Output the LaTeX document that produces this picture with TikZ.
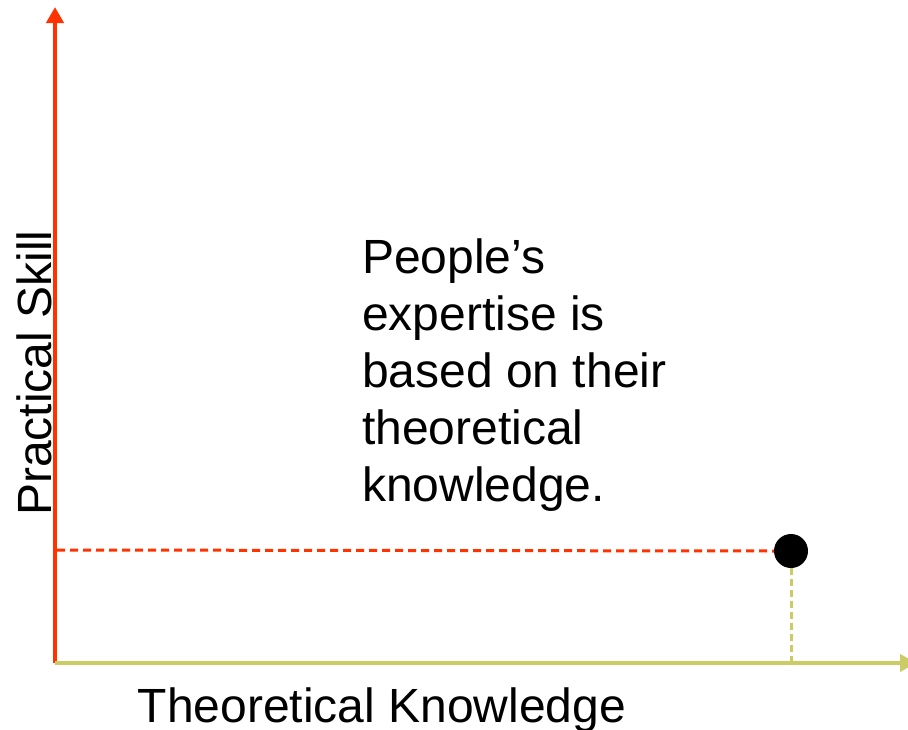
\documentclass[tikz,border=0pt]{standalone}
\usepackage{fontspec}
\setmainfont{Liberation Sans}
\usetikzlibrary{arrows.meta}
\definecolor{axred}{HTML}{FF3300}
\definecolor{axolive}{HTML}{CCCC66}

\begin{document}
\begin{tikzpicture}[x=1pt,y=-1pt,
  ax/.style={line width=4pt,-{Triangle[width=17pt,length=16pt]}},
  guide/.style={line width=3pt,dash pattern=on 8pt off 5pt},
  dot/.style={circle,fill=black,minimum size=34pt,inner sep=0pt},
  lbl/.style={inner sep=0pt,font=\fontsize{48}{57}\selectfont}]
  \useasboundingbox (0,0) rectangle (908,729);
  \coordinate (o) at (55,663);
  \coordinate (ytop) at (55,7);
  \coordinate (xend) at (916,663);
  \coordinate (ylev) at (57,550);
  \coordinate (xlev) at (791,663);
  \node[dot] (pt) at (791,551) {};
  \draw[ax,axred] (o) -- (ytop);
  \draw[ax,axolive] (o) -- (xend);
  \draw[guide,axred] (ylev) -- (pt.west);
  \draw[guide,axolive,dash pattern=on 7pt off 4pt] (pt) -- (xlev);
  \node[lbl,anchor=base] (xlab) at (382,722) {Theoretical Knowledge};
  \node[lbl,anchor=base,rotate=90] (ylab) at (51,373) {Practical Skill};
  \node[lbl,align=left,anchor=base west] (note) at (362,501)
    {People’s\\expertise is\\based on their\\theoretical\\knowledge.};
\end{tikzpicture}
\end{document}
